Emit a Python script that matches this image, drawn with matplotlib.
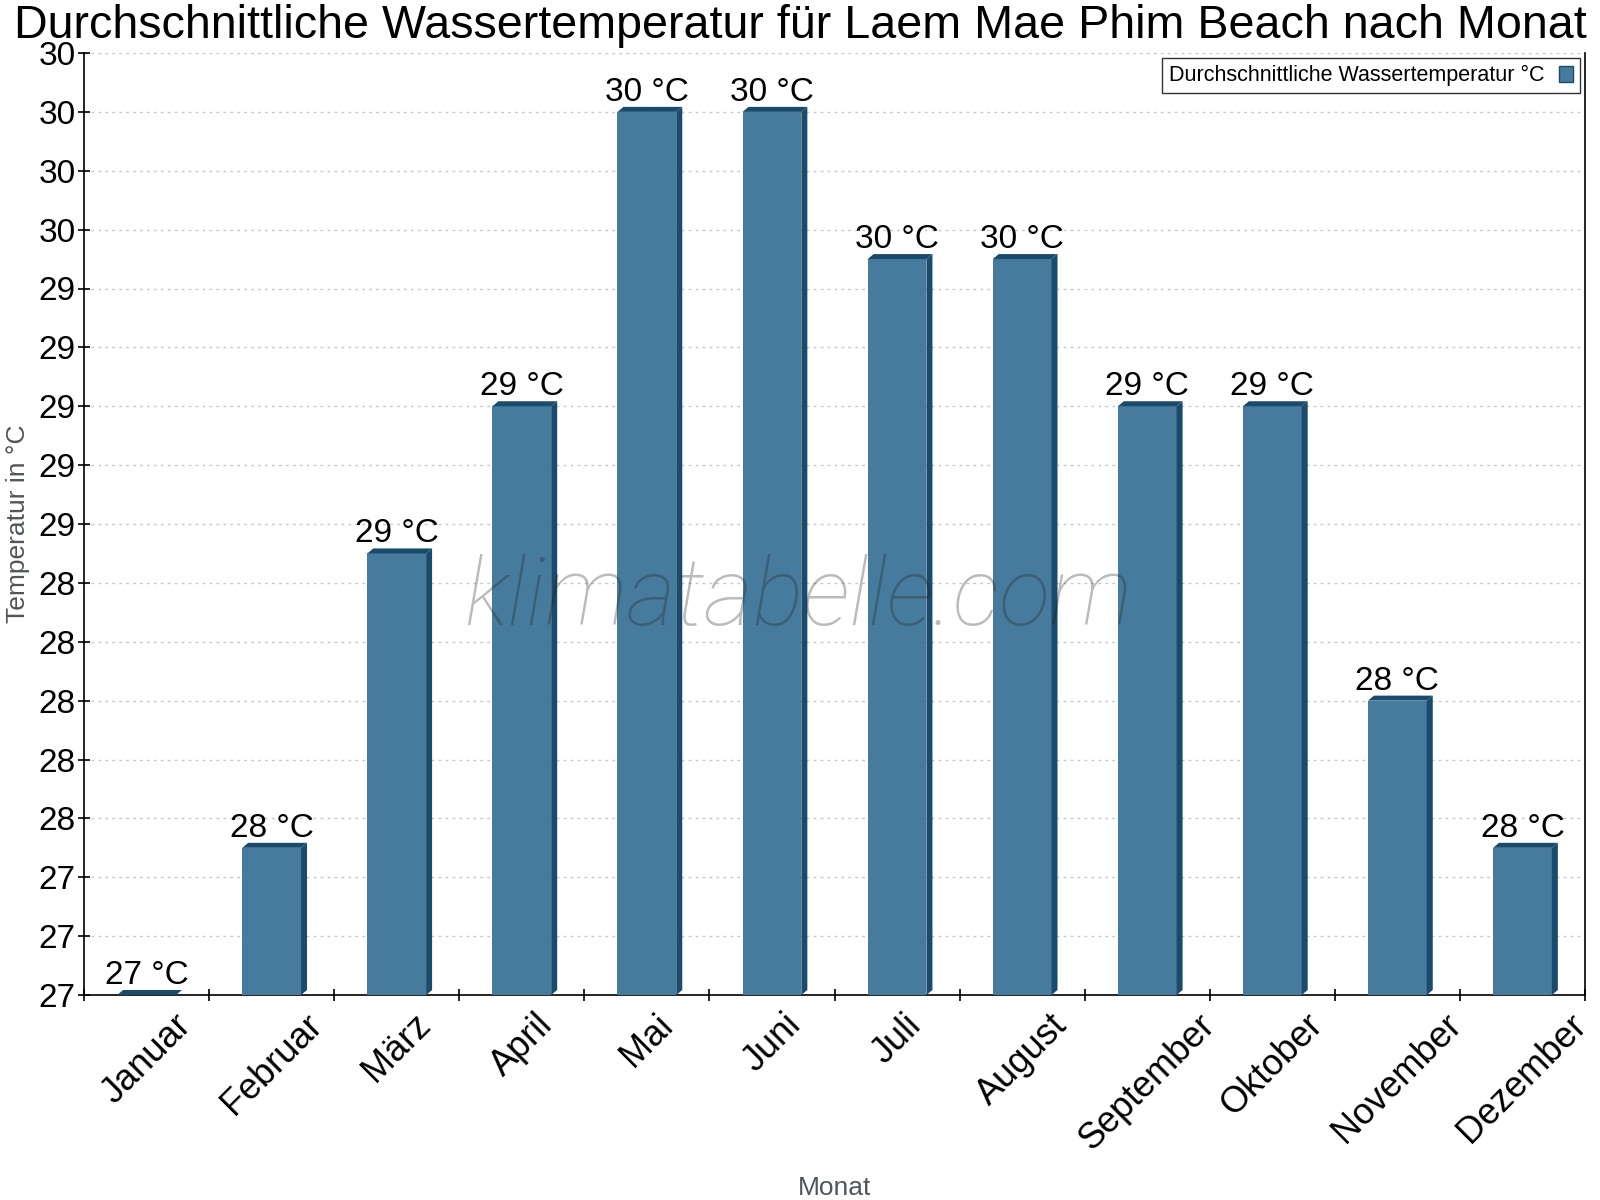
import math
import matplotlib
matplotlib.use("Agg")
import matplotlib.pyplot as plt
from matplotlib.patches import Polygon, Rectangle
from matplotlib.ticker import FixedLocator, FuncFormatter, NullFormatter

plt.rcParams['font.family'] = ['Liberation Sans', 'DejaVu Sans']

months = ["Januar", "Februar", "März", "April", "Mai", "Juni", "Juli",
          "August", "September", "Oktober", "November", "Dezember"]
water_temp = [27.0, 27.5, 28.5, 29.0, 30.0, 30.0, 29.5, 29.5, 29.0, 29.0, 28.0, 27.5]
y_ticks = [27.0, 27.2, 27.4, 27.6, 27.8, 28.0, 28.2, 28.4, 28.6, 28.8,
           29.0, 29.2, 29.4, 29.6, 29.8, 30.0, 30.2]

title = "Durchschnittliche Wassertemperatur für Laem Mae Phim Beach nach Monat"
legend_label = "Durchschnittliche Wassertemperatur °C"

FRONT = "#467b9d"
DARK = "#1a4b6c"

W, H = 1600, 1200
fig = plt.figure(figsize=(16, 12), dpi=100)
ax = fig.add_axes([84 / W, 1 - 995 / H, (1585 - 84) / W, (995 - 53) / H])

n = len(months)
ymin, ymax = 27.0, 30.2
ax.set_xlim(0, n)
ax.set_ylim(ymin, ymax)

# pixel -> data conversions
px_x = n / (1585 - 84)
px_y = (ymax - ymin) / (995 - 53)
dx = 6 * px_x
dy = 5 * px_y
bw = 0.47

for i, v in enumerate(water_temp):
    xc = i + 0.5
    x0, x1 = xc - bw / 2, xc + bw / 2
    if v > ymin:
        ax.add_patch(Rectangle((x0, ymin), bw, v - ymin, facecolor=FRONT,
                               edgecolor='none', zorder=3))
        ax.add_patch(Polygon([(x1, ymin), (x1 + dx, ymin + dy), (x1 + dx, v + dy), (x1, v)],
                             closed=True, facecolor=DARK, edgecolor='none', zorder=3))
    ax.add_patch(Polygon([(x0, v), (x0 + dx, v + dy), (x1 + dx, v + dy), (x1, v)],
                         closed=True, facecolor=DARK, edgecolor='none', zorder=3))
    lab = f"{int(math.floor(v + 0.5))} °C"
    ax.annotate(lab, (xc, v), xytext=(0, 8), textcoords='offset points',
                ha='center', va='baseline', fontsize=24, color='black', zorder=5)

# axes styling
ax.spines['top'].set_visible(False)
for s in ['left', 'bottom', 'right']:
    ax.spines[s].set_linewidth(1.2)
    ax.spines[s].set_color('black')

ax.yaxis.set_major_locator(FixedLocator(y_ticks))
ax.yaxis.set_major_formatter(FuncFormatter(lambda v, p: f"{v:.0f}"))
ax.tick_params(axis='y', which='major', direction='inout', length=8, width=1.2,
               labelsize=24, pad=2, right=False)

ax.xaxis.set_major_locator(FixedLocator(list(range(n + 1))))
ax.xaxis.set_major_formatter(NullFormatter())
ax.xaxis.set_minor_locator(FixedLocator([i + 0.5 for i in range(n)]))
ax.set_xticklabels(months, minor=True, rotation=45, ha='center', fontsize=26)
ax.tick_params(axis='x', which='major', direction='inout', length=9, width=1.2)
ax.tick_params(axis='x', which='minor', length=0, pad=9)

ax.yaxis.grid(True, linestyle=(0, (2, 3)), color='#c8c8c8', linewidth=1.0, zorder=0)
ax.set_axisbelow(True)

ax.set_ylabel("Temperatur in °C", fontsize=19, color='#4f555c')
ax.yaxis.set_label_coords(-0.036, 0.5)
ax.set_xlabel("Monat", fontsize=19, color='#4f555c')
ax.xaxis.set_label_coords(0.5, -0.192)

fig.text(0.5, 1 - 4 / H, title, ha='center', va='top', fontsize=33.6, color='black')

# watermark
fig.text(798 / W, 1 - 625 / H, "klimatabelle.com", ha='center', va='baseline',
         fontsize=68, family=['Roboto', 'DejaVu Sans'], fontweight='light',
         style='italic', color='#1e1e1e', alpha=0.3, zorder=10)

# legend
handle = Rectangle((0, 0), 1, 1, facecolor=FRONT, edgecolor=DARK, linewidth=1)
leg = ax.legend([handle], [legend_label], loc='upper right', fontsize=15.5,
                frameon=True, fancybox=False, markerfirst=False,
                handlelength=0.62, handleheight=0.77, borderaxespad=0.25,
                borderpad=0.32, handletextpad=0.7)
leg.get_frame().set_edgecolor('black')
leg.get_frame().set_linewidth(1.0)

fig.savefig("out.png", dpi=100)
